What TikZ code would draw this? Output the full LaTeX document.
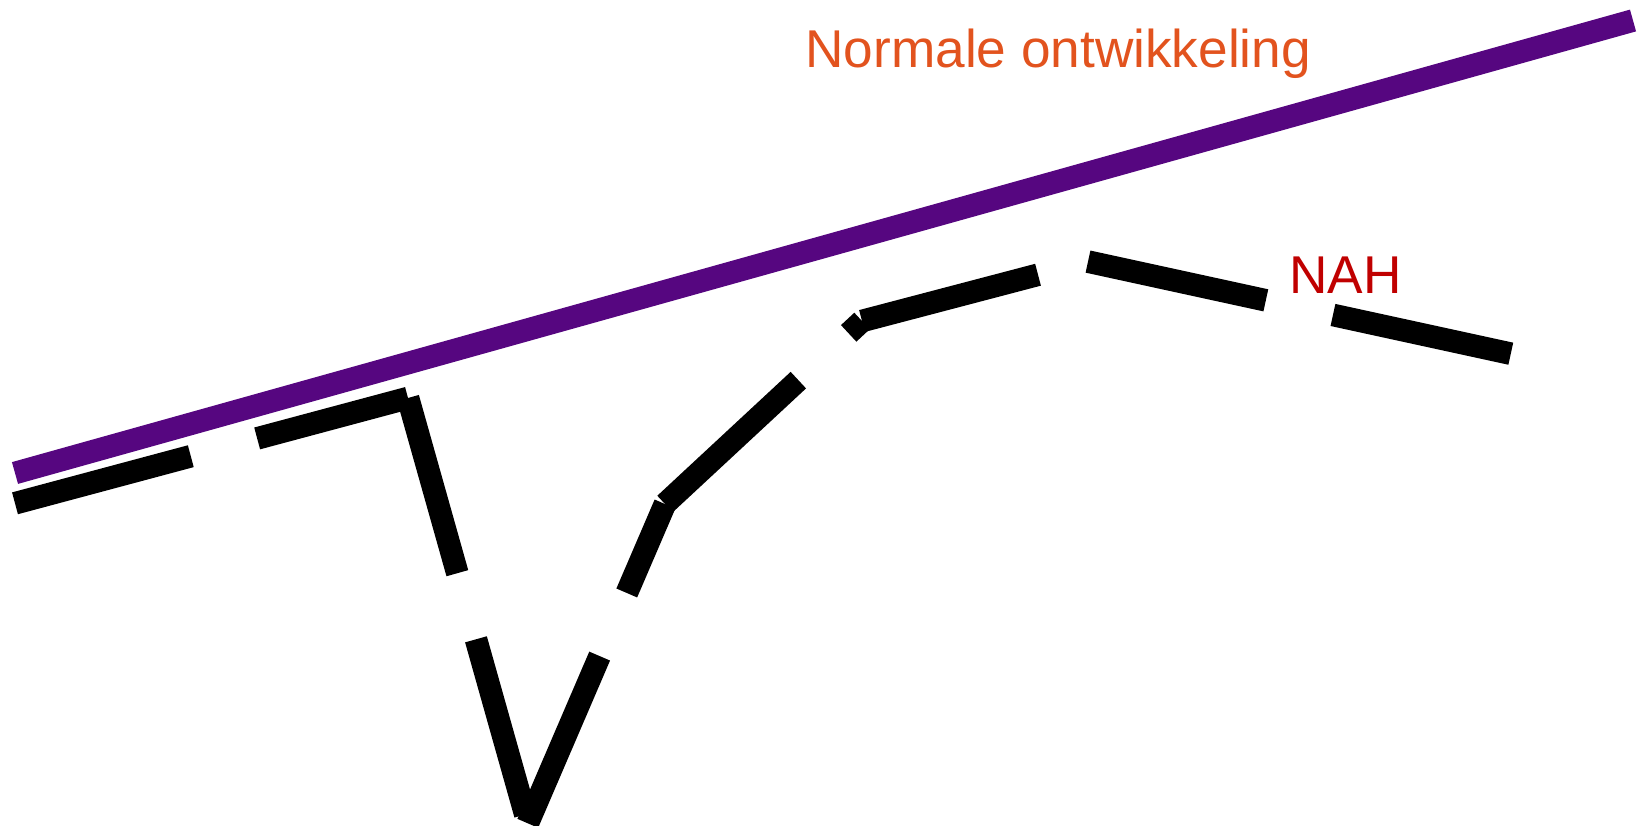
\documentclass[tikz,border=0pt]{standalone}
\usepackage{fontspec}
\setmainfont{Liberation Sans}
\definecolor{normalpurple}{RGB}{86,6,128}
\definecolor{normalorange}{RGB}{226,83,30}
\definecolor{nahred}{RGB}{192,0,0}
\begin{document}
\begin{tikzpicture}[x=0.5pt,y=-0.5pt,
  trend/.style={line width=11.3pt, line cap=butt},
  normalline/.style={trend, draw=normalpurple},
  patientline/.style={trend, draw=black, dash pattern=on 91pt off 34.35pt},
  caption/.style={anchor=base west, inner sep=0pt, font=\fontsize{26.6}{32}\selectfont}]
\useasboundingbox (0,0) rectangle (1638,825);

% normal development trend
\coordinate (n0) at (15,473);
\coordinate (n1) at (1633,20.5);
\draw[normalline] (n0) -- (n1);

% development after brain injury
\coordinate (p0) at (15,503.3);
\coordinate (p1) at (408,398);
\coordinate (p2) at (527.8,823.3);
\coordinate (p3) at (665,504);
\coordinate (p4) at (862,321);
\coordinate (p5) at (1088,261.6);
\coordinate (p6) at (1511.3,353.8);
\draw[patientline] (p0) -- (p1);
\draw[patientline] (p1) -- (p2);
\draw[patientline] (p2) -- (p3);
\draw[patientline] (p3) -- (p4);
\draw[patientline] (p4) -- (p5);
\draw[patientline] (p5) -- (p6);

% labels
\node[caption, text=normalorange] (normlabel) at (805,67.7) {Normale ontwikkeling};
\node[caption, text=nahred] (nahlabel) at (1288.7,293.3) {NAH};
\end{tikzpicture}
\end{document}
